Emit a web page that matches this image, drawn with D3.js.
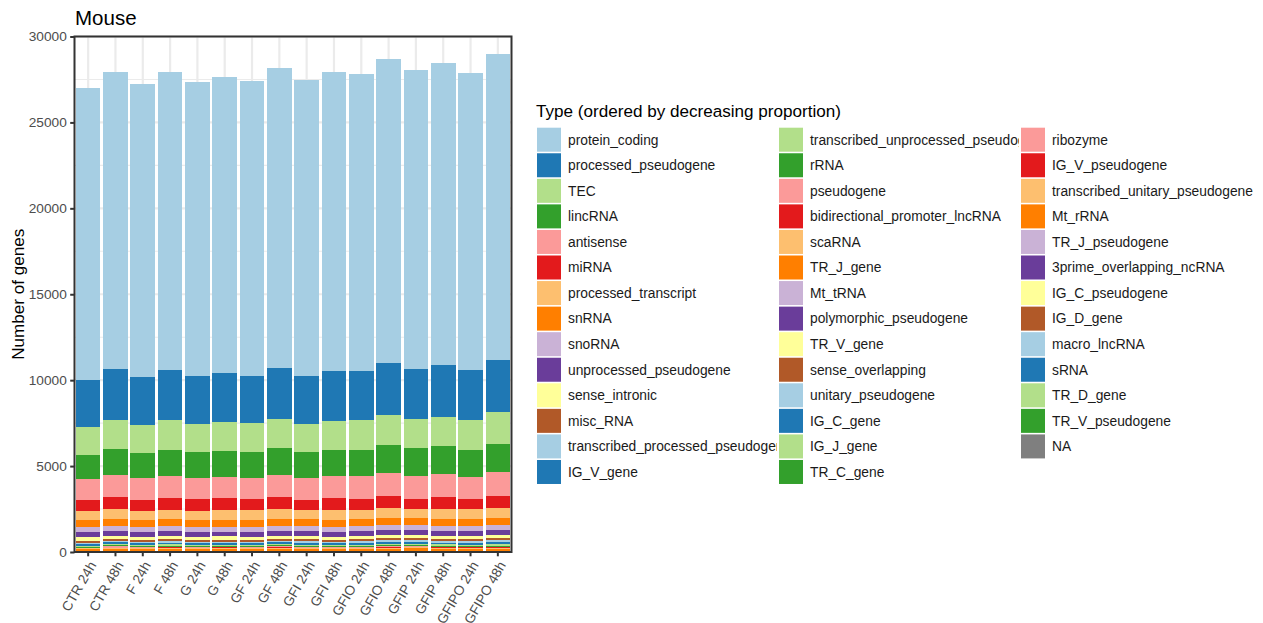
<!DOCTYPE html>
<html>
<head>
<meta charset="utf-8">
<script src="https://cdn.jsdelivr.net/npm/d3@7"></script>
<style>
  html, body { margin: 0; padding: 0; background: #ffffff; }
  svg { display: block; font-family: "Liberation Sans", Arial, Helvetica, sans-serif; }
</style>
</head>
<body>
<svg id="chart" width="1263" height="623"></svg>
<script>
// Samples along the x axis
const samples = ["CTR 24h", "CTR 48h", "F 24h", "F 48h", "G 24h", "G 48h", "GF 24h", "GF 48h",
  "GFI 24h", "GFI 48h", "GFIO 24h", "GFIO 48h", "GFIP 24h", "GFIP 48h", "GFIPO 24h", "GFIPO 48h"];

// Gene biotypes, ordered by decreasing proportion (legend order, top of stack first)
const types = ["protein_coding", "processed_pseudogene", "TEC", "lincRNA", "antisense", "miRNA",
  "processed_transcript", "snRNA", "snoRNA", "unprocessed_pseudogene", "sense_intronic", "misc_RNA",
  "transcribed_processed_pseudogene", "IG_V_gene", "transcribed_unprocessed_pseudogene", "rRNA",
  "pseudogene", "bidirectional_promoter_lncRNA", "scaRNA", "TR_J_gene", "Mt_tRNA",
  "polymorphic_pseudogene", "TR_V_gene", "sense_overlapping", "unitary_pseudogene", "IG_C_gene",
  "IG_J_gene", "TR_C_gene", "ribozyme", "IG_V_pseudogene", "transcribed_unitary_pseudogene",
  "Mt_rRNA", "TR_J_pseudogene", "3prime_overlapping_ncRNA", "IG_C_pseudogene", "IG_D_gene",
  "macro_lncRNA", "sRNA", "TR_D_gene", "TR_V_pseudogene", "NA"];

// Number of detected genes per biotype, one value per sample
const protein_coding = [16980, 17340, 17100, 17340, 17100, 17280, 17160, 17450, 17220, 17450, 17330, 17690, 17400, 17570, 17340, 17800];
const processed_pseudogene = [2740, 2920, 2750, 2910, 2800, 2800, 2740, 2920, 2800, 2860, 2860, 3030, 2860, 3030, 2910, 3040];
const TEC = [1640, 1690, 1630, 1700, 1630, 1690, 1690, 1690, 1630, 1700, 1700, 1750, 1690, 1690, 1700, 1810];
const lincRNA = [1400, 1520, 1460, 1510, 1520, 1520, 1520, 1580, 1520, 1510, 1510, 1580, 1630, 1640, 1570, 1630];
const antisense = [1225, 1280, 1285, 1290, 1225, 1230, 1225, 1280, 1285, 1290, 1345, 1340, 1345, 1340, 1285, 1400];
const miRNA = [640, 700, 640, 700, 700, 700, 645, 700, 585, 700, 645, 700, 585, 700, 585, 700];
const processed_transcript = [525, 585, 525, 525, 525, 580, 580, 585, 525, 580, 525, 585, 525, 585, 585, 585];
const snRNA = [410, 405, 410, 410, 405, 410, 410, 410, 405, 410, 410, 410, 410, 405, 410, 410];
const snoRNA = [290, 292, 290, 292, 290, 292, 290, 292, 292, 292, 292, 292, 292, 292, 292, 292];
const unprocessed_pseudogene = [292, 292, 292, 292, 292, 267, 267, 292, 292, 267, 292, 291, 291, 292, 292, 291];
const sense_intronic = [230, 175, 180, 185, 175, 180, 185, 170, 190, 180, 190, 185, 185, 180, 185, 190];
const misc_RNA = [110, 115, 115, 120, 115, 115, 110, 115, 120, 115, 115, 120, 115, 115, 115, 120];
const transcribed_processed_pseudogene = [65, 80, 75, 80, 80, 80, 80, 80, 85, 80, 90, 110, 105, 90, 90, 110];
const IG_V_gene = [95, 110, 105, 115, 110, 110, 110, 110, 115, 110, 115, 120, 115, 115, 115, 120];
const transcribed_unprocessed_pseudogene = [65, 75, 70, 75, 70, 75, 75, 75, 80, 75, 80, 85, 80, 80, 80, 85];
const rRNA = [50, 55, 55, 55, 50, 55, 55, 55, 55, 55, 55, 60, 55, 55, 55, 60];
const pseudogene = [25, 90, 25, 30, 25, 25, 25, 25, 30, 30, 30, 35, 30, 30, 30, 35];
const bidirectional_promoter_lncRNA = [25, 25, 25, 30, 25, 25, 25, 90, 30, 25, 30, 35, 30, 30, 30, 30];
const scaRNA = [30, 30, 45, 60, 45, 50, 50, 30, 45, 45, 45, 55, 45, 55, 50, 55];
const TR_J_gene = [140, 139, 140, 144, 140, 145, 145, 144, 144, 145, 144, 148, 151, 144, 144, 148];
const Mt_tRNA = [10, 11, 10, 12, 10, 11, 10, 12, 11, 11, 10, 12, 11, 12, 10, 12];
const polymorphic_pseudogene = [8, 8, 7, 8, 8, 9, 8, 8, 8, 8, 9, 9, 50, 8, 8, 9];
const TR_V_gene = [6, 6, 5, 6, 6, 6, 5, 6, 6, 6, 6, 7, 6, 6, 6, 7];
const sense_overlapping = [5, 5, 5, 5, 4, 5, 5, 5, 5, 5, 5, 5, 5, 5, 5, 5];
const unitary_pseudogene = [4, 4, 4, 4, 4, 4, 4, 4, 4, 4, 4, 5, 4, 4, 4, 5];
const IG_C_gene = [2, 3, 2, 2, 2, 2, 2, 3, 2, 2, 2, 3, 2, 2, 2, 3];
const IG_J_gene = [1, 1, 1, 1, 1, 1, 1, 1, 1, 1, 1, 2, 1, 1, 1, 2];
const TR_C_gene = [1, 1, 1, 1, 1, 1, 1, 1, 1, 1, 1, 1, 1, 1, 1, 1];
const ribozyme = [1, 1, 1, 1, 1, 1, 1, 1, 1, 1, 1, 1, 1, 1, 1, 1];
const IG_V_pseudogene = [1, 1, 1, 1, 1, 1, 1, 1, 1, 1, 1, 1, 1, 1, 1, 1];
const transcribed_unitary_pseudogene = [1, 1, 1, 1, 1, 1, 1, 1, 1, 1, 1, 1, 1, 1, 1, 1];
const Mt_rRNA = [1, 1, 1, 1, 1, 1, 1, 1, 1, 1, 1, 1, 1, 1, 1, 1];
const TR_J_pseudogene = [0, 0, 0, 0, 0, 0, 0, 0, 0, 0, 0, 1, 0, 0, 0, 1];
const three_prime_overlapping_ncRNA = [0, 1, 0, 0, 0, 0, 0, 1, 0, 0, 0, 1, 0, 0, 0, 1];
const IG_C_pseudogene = [0, 0, 0, 0, 0, 0, 0, 0, 0, 0, 0, 0, 0, 0, 0, 0];
const IG_D_gene = [0, 0, 0, 0, 0, 0, 0, 0, 0, 0, 0, 0, 0, 0, 0, 0];
const macro_lncRNA = [0, 0, 0, 0, 0, 0, 0, 0, 0, 0, 0, 0, 0, 0, 0, 0];
const sRNA = [0, 0, 0, 0, 0, 0, 0, 0, 0, 0, 0, 0, 0, 0, 0, 0];
const TR_D_gene = [0, 0, 0, 0, 0, 0, 0, 0, 0, 0, 0, 0, 0, 0, 0, 0];
const TR_V_pseudogene = [0, 0, 0, 0, 0, 0, 0, 0, 0, 0, 0, 0, 0, 0, 0, 0];
const NA_type = [0, 0, 0, 0, 0, 0, 0, 0, 0, 0, 0, 0, 0, 0, 0, 0];

const yTicks = [0, 5000, 10000, 15000, 20000, 25000, 30000];
const yMinor = [2500, 7500, 12500, 17500, 22500, 27500];

const seriesByType = {
  protein_coding, processed_pseudogene, TEC, lincRNA, antisense, miRNA, processed_transcript,
  snRNA, snoRNA, unprocessed_pseudogene, sense_intronic, misc_RNA, transcribed_processed_pseudogene,
  IG_V_gene, transcribed_unprocessed_pseudogene, rRNA, pseudogene, bidirectional_promoter_lncRNA,
  scaRNA, TR_J_gene, Mt_tRNA, polymorphic_pseudogene, TR_V_gene, sense_overlapping,
  unitary_pseudogene, IG_C_gene, IG_J_gene, TR_C_gene, ribozyme, IG_V_pseudogene,
  transcribed_unitary_pseudogene, Mt_rRNA, TR_J_pseudogene,
  "3prime_overlapping_ncRNA": three_prime_overlapping_ncRNA,
  IG_C_pseudogene, IG_D_gene, macro_lncRNA, sRNA, TR_D_gene, TR_V_pseudogene, "NA": NA_type
};

// Row table for d3.stack
const rows = samples.map((s, i) => {
  const r = { sample: s };
  types.forEach(t => { r[t] = seriesByType[t][i]; });
  return r;
});

// Paired palette cycled over the biotypes, grey for NA
const paired = d3.schemePaired;
const color = d3.scaleOrdinal()
  .domain(types)
  .range(types.map((t, i) => t === "NA" ? "#7F7F7F" : paired[i % paired.length]));

const svg = d3.select("#chart");
svg.append("rect").attr("width", 1263).attr("height", 623).attr("fill", "#ffffff");

const panel = { left: 74.5, right: 511.5, top: 36.5, bottom: 552 };

const x = d3.scaleBand()
  .domain(samples)
  .range([panel.left, panel.right])
  .paddingInner(0.1)
  .paddingOuter(0.05);

const y = d3.scaleLinear()
  .domain([0, 30000])
  .range([panel.bottom, panel.top]);

// Grid
const grid = svg.append("g");
grid.selectAll("line.minor").data(yMinor).join("line")
  .attr("x1", panel.left).attr("x2", panel.right)
  .attr("y1", d => y(d)).attr("y2", d => y(d))
  .attr("stroke", "#EBEBEB").attr("stroke-width", 1.1);
grid.selectAll("line.majory").data(yTicks).join("line")
  .attr("x1", panel.left).attr("x2", panel.right)
  .attr("y1", d => y(d)).attr("y2", d => y(d))
  .attr("stroke", "#EBEBEB").attr("stroke-width", 2.2);
grid.selectAll("line.majorx").data(samples).join("line")
  .attr("x1", d => x(d) + x.bandwidth() / 2).attr("x2", d => x(d) + x.bandwidth() / 2)
  .attr("y1", panel.top).attr("y2", panel.bottom)
  .attr("stroke", "#EBEBEB").attr("stroke-width", 2.2);

// Stacked bars: first biotype ends up on top
const stack = d3.stack().keys(types.slice().reverse());
const layers = stack(rows);

const barG = svg.append("g").attr("shape-rendering", "crispEdges");
barG.selectAll("g.layer").data(layers).join("g")
  .attr("fill", d => color(d.key))
  .selectAll("rect").data(d => d.filter(p => p[1] > p[0])).join("rect")
  .attr("x", d => x(d.data.sample))
  .attr("width", x.bandwidth())
  .attr("y", d => y(d[1]))
  .attr("height", d => y(d[0]) - y(d[1]));

// Panel border
svg.append("rect")
  .attr("x", panel.left).attr("y", panel.top)
  .attr("width", panel.right - panel.left).attr("height", panel.bottom - panel.top)
  .attr("fill", "none").attr("stroke", "#333333").attr("stroke-width", 2);

// Y axis
const yAxis = d3.axisLeft(y).tickValues(yTicks).tickSize(4.3).tickPadding(3.4).tickFormat(d3.format("d"));
const yG = svg.append("g").attr("transform", `translate(${panel.left},0)`).call(yAxis);
yG.select(".domain").remove();
yG.selectAll(".tick line").attr("stroke", "#333333").attr("stroke-width", 2);
yG.selectAll(".tick text").attr("fill", "#4D4D4D").style("font-size", "13.7px")
  .style("font-family", '"Liberation Sans", Arial, Helvetica, sans-serif');

// X axis
const xAxis = d3.axisBottom(x).tickSize(4.3).tickPadding(3.4);
const xG = svg.append("g").attr("transform", `translate(0,${panel.bottom})`).call(xAxis);
xG.select(".domain").remove();
xG.selectAll(".tick line").attr("stroke", "#333333").attr("stroke-width", 2);
xG.selectAll(".tick text")
  .attr("fill", "#4D4D4D").style("font-size", "13.7px")
  .style("font-family", '"Liberation Sans", Arial, Helvetica, sans-serif')
  .attr("text-anchor", "end")
  .attr("y", 0).attr("dy", "0.72em")
  .attr("transform", "translate(0,8) rotate(-60)");

// Titles
svg.append("text").attr("x", 75).attr("y", 25)
  .style("font-size", "20.5px").attr("fill", "#000").text("Mouse");
svg.append("text")
  .attr("transform", `translate(24,${(panel.top + panel.bottom) / 2}) rotate(-90)`)
  .attr("text-anchor", "middle").style("font-size", "17.1px").attr("fill", "#000")
  .text("Number of genes");

// Legend
const legend = svg.append("g");
legend.append("text").attr("x", 536).attr("y", 117)
  .style("font-size", "17.1px").attr("fill", "#000")
  .text("Type (ordered by decreasing proportion)");

const rowsPerCol = 14;
const colKeyX = [537, 779, 1021];
const rowY0 = 127.7, rowStep = 25.56, keySize = 24;

colKeyX.forEach((kx, c) => {
  const items = types.slice(c * rowsPerCol, (c + 1) * rowsPerCol);
  const clipId = "legclip" + c;
  const clipW = c < colKeyX.length - 1 ? colKeyX[c + 1] - 2 - (kx + keySize) : 300;
  svg.append("clipPath").attr("id", clipId)
    .append("rect").attr("x", kx + keySize).attr("y", 100).attr("width", clipW).attr("height", 420);
  const g = legend.append("g");
  g.selectAll("rect").data(items).join("rect")
    .attr("x", kx).attr("y", (d, i) => rowY0 + i * rowStep)
    .attr("width", keySize).attr("height", keySize)
    .attr("fill", d => color(d));
  g.append("g").attr("clip-path", `url(#${clipId})`)
    .selectAll("text").data(items).join("text")
    .attr("x", kx + 31).attr("y", (d, i) => rowY0 + i * rowStep + keySize / 2)
    .attr("dy", "0.35em")
    .style("font-size", "13.8px").attr("fill", "#1A1A1A")
    .text(d => d);
});
</script>
</body>
</html>
